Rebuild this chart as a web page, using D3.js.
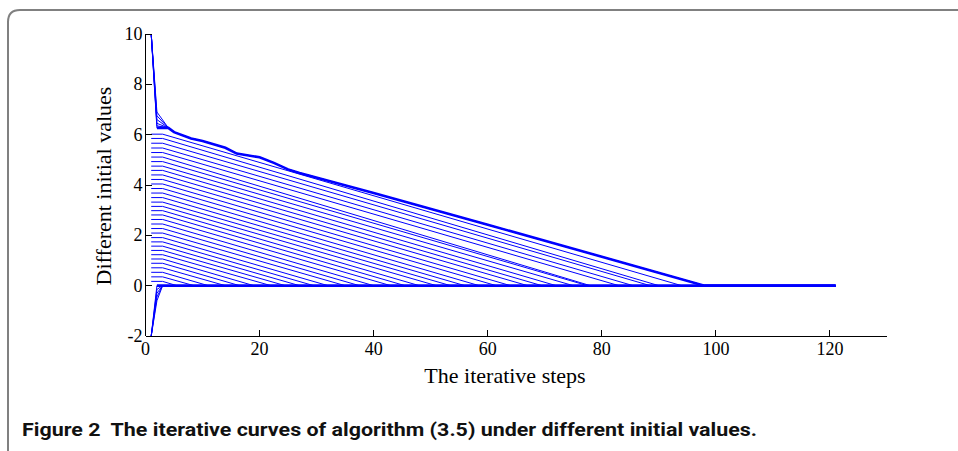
<!DOCTYPE html>
<html>
<head>
<meta charset="utf-8">
<script src="https://cdn.jsdelivr.net/npm/d3@7"></script>
<style>
  html, body { margin: 0; padding: 0; background: #fff; }
  svg { display: block; }
  .tick-label { font-family: "Liberation Serif", "DejaVu Serif", serif; font-size: 18px; fill: #000; }
  .axis-title { font-family: "Liberation Serif", "DejaVu Serif", serif; font-size: 22px; fill: #000; }
  .caption { font-family: "Liberation Sans Narrow", "Roboto", "Noto Sans", sans-serif; font-weight: bold; font-size: 18px; fill: #111; white-space: pre; }
</style>
</head>
<body>
<svg id="chart" width="958" height="451"></svg>
<script>
// ── data ────────────────────────────────────────────────────
const xTicks = [0, 20, 40, 60, 80, 100, 120];
const yTicks = [-2, 0, 2, 4, 6, 8, 10];

// curves that start between 0 and 6: flat to step 3, then straight down to 0
const initialValues = [6.02, 5.85, 5.66, 5.47, 5.29, 5.11, 4.93, 4.75, 4.58, 4.40, 4.22, 4.04,
                       3.86, 3.68, 3.50, 3.32, 3.15, 2.98, 2.81, 2.63, 2.45, 2.27, 2.09, 1.91,
                       1.74, 1.57, 1.40, 1.23, 1.06, 0.89, 0.71, 0.53, 0.35, 0.17];
const zeroSteps     = [94, 90, 88.5, 85.5, 83, 78, 77.5, 75, 72, 69.5, 67, 64,
                       61.5, 58.5, 56, 53.5, 51, 48, 45.5, 43, 40, 37.5, 35, 32,
                       29.5, 27, 24.5, 22, 19, 16.5, 14, 11, 8.5, 5.5];
const startStep   = 1;
const plateauStep = 3;
const lastStep    = 121;

// upper bundle (curves starting at 10)
const topSteps  = [2, 4, 5, 8, 10, 14, 16, 20, 22.5, 25, 27, 40, 60, 80, 98, 121];
const topValues = [6.27, 6.27, 6.1, 5.85, 5.75, 5.48, 5.25, 5.1, 4.88, 4.62, 4.48, 3.68, 2.42, 1.15, 0, 0];
const highStart = [10, 10, 10, 10, 10, 10];
const highMid   = [6.27, 6.35, 6.45, 6.6, 6.75, 6.9];

// lower bundle (curves starting at -2)
const lowStart = [-2, -2, -2, -2, -2];
const lowMid   = [0, -0.15, -0.3, -0.45, -0.6];

const caption = "Figure 2  The iterative curves of algorithm (3.5) under different initial values.";

// ── layout ──────────────────────────────────────────────────
const svg = d3.select("#chart");
const X0 = 145.5, X1 = 887, Y0 = 336, Y1 = 34;
const TICK = 6;
const BLUE = "#0000ff";

const x = d3.scaleLinear().domain([0, 130]).range([X0, X1]);
const y = d3.scaleLinear().domain([-2, 10]).range([Y0, Y1]);

// 바깥 테두리 (둥근 모서리)
svg.append("path")
    .attr("d", "M8,451 L8,22 Q8,10 20,10 L958,10")
    .attr("fill", "none").attr("stroke", "#808080").attr("stroke-width", 2);

const line = d3.line().x(d => x(d[0])).y(d => y(d[1]));
const curves = svg.append("g").attr("fill", "none").attr("stroke", BLUE);

// middle curves
initialValues.forEach((v, i) => {
    curves.append("path")
        .attr("stroke-width", 1)
        .attr("d", line([[startStep, v], [plateauStep, v], [zeroSteps[i], 0], [lastStep, 0]]));
});

// curves from 10
const topPath = topSteps.map((s, i) => [s, topValues[i]]);
highStart.forEach((v, i) => {
    curves.append("path")
        .attr("stroke-width", 1)
        .attr("d", line([[startStep, v], [2, highMid[i]], [4, topValues[1]], ...topPath.slice(2)]));
});
curves.append("path").attr("stroke-width", 2.6).attr("d", line(topPath));

// curves from -2
lowStart.forEach((v, i) => {
    curves.append("path")
        .attr("stroke-width", 1)
        .attr("d", line([[startStep, v], [2, lowMid[i]], [plateauStep, 0]]));
});
curves.append("path").attr("stroke-width", 2.6).attr("d", line([[2, 0], [lastStep, 0]]));

// ── axes ────────────────────────────────────────────────────
const axes = svg.append("g").attr("stroke", "#000").attr("stroke-width", 1).attr("shape-rendering", "crispEdges");
axes.append("line").attr("x1", X0).attr("x2", X0).attr("y1", Y1).attr("y2", Y0);
axes.append("line").attr("x1", X0).attr("x2", X1).attr("y1", Y0).attr("y2", Y0);

xTicks.forEach(t => {
    axes.append("line").attr("x1", x(t)).attr("x2", x(t)).attr("y1", Y0).attr("y2", Y0 - TICK);
    svg.append("text").attr("class", "tick-label")
        .attr("x", x(t)).attr("y", Y0 + 19).attr("text-anchor", "middle").text(t);
});
yTicks.forEach(t => {
    axes.append("line").attr("x1", X0).attr("x2", X0 + TICK).attr("y1", y(t)).attr("y2", y(t));
    svg.append("text").attr("class", "tick-label")
        .attr("x", X0 - 3).attr("y", y(t) + 6).attr("text-anchor", "end").text(t);
});

svg.append("text").attr("class", "axis-title")
    .attr("x", 505).attr("y", 383).attr("text-anchor", "middle")
    .text("The iterative steps");
svg.append("text").attr("class", "axis-title")
    .attr("transform", "translate(111,186) rotate(-90)")
    .attr("text-anchor", "middle")
    .text("Different initial values");

// caption
svg.append("text").attr("class", "caption")
    .attr("x", 22).attr("y", 436)
    .attr("textLength", 735).attr("lengthAdjust", "spacingAndGlyphs")
    .text(caption);
</script>
</body>
</html>
